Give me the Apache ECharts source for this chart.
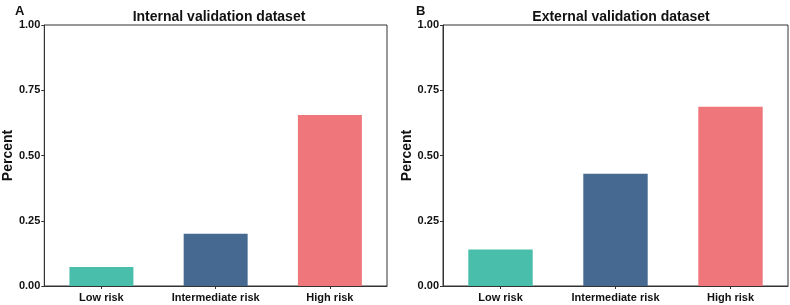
<!DOCTYPE html>
<html>
<head>
<meta charset="utf-8">
<script src="https://cdn.jsdelivr.net/npm/echarts@6/dist/echarts.min.js"></script>
<style>
    html, body { margin: 0; padding: 0; background: #fff; }
    #chart { width: 790px; height: 305px; }
</style>
</head>
<body>
<div id="chart"></div>
<script>
    // 数据
    const categories = ["Low risk", "Intermediate risk", "High risk"];
    const internalValues = [0.073, 0.2, 0.655];
    const externalValues = [0.14, 0.43, 0.687];
    const yTicks = [0, 0.25, 0.5, 0.75, 1];
    const barColors = ["#49BEAA", "#456990", "#EF767A"];

    const font = "Liberation Sans, Arial, sans-serif";
    const axisColor = "#333";

    function makeXAxis(gridIndex) {
        return {
            type: "category",
            gridIndex,
            data: categories,
            axisLine: { lineStyle: { color: axisColor, width: 1 } },
            axisTick: { show: true, alignWithLabel: true, length: 3, lineStyle: { color: axisColor } },
            axisLabel: {
                interval: 0,
                hideOverlap: false,
                color: "#111",
                fontSize: 11,
                fontWeight: "bold",
                fontFamily: font,
                margin: 6,
            },
            splitLine: { show: false },
        };
    }
    function makeYAxis(gridIndex, gap) {
        return {
            type: "value",
            gridIndex,
            min: 0,
            max: 1,
            interval: 0.25,
            name: "Percent",
            nameLocation: "middle",
            nameGap: gap,
            nameTextStyle: { color: "#111", fontSize: 14, fontWeight: "bold", fontFamily: font },
            axisLine: { show: true, lineStyle: { color: axisColor, width: 1 } },
            axisTick: { show: true, length: 3, lineStyle: { color: axisColor } },
            axisLabel: {
                color: "#111",
                fontSize: 11,
                fontWeight: "bold",
                fontFamily: font,
                margin: 4,
                formatter: (v) => (yTicks.includes(v) ? v.toFixed(2) : ""),
            },
            splitLine: { show: false },
        };
    }
    function makeSeries(idx, values) {
        return {
            type: "bar",
            xAxisIndex: idx,
            yAxisIndex: idx,
            barWidth: "56%",
            data: values.map((v, i) => ({ value: v, itemStyle: { color: barColors[i] } })),
        };
    }

    let options = {
        animation: false,
        backgroundColor: "#fff",
        title: [
            { text: "A", left: 10, top: 0, textStyle: { fontSize: 13, fontWeight: "bold", color: "#111", fontFamily: font } },
            { text: "B", left: 411, top: 0, textStyle: { fontSize: 13, fontWeight: "bold", color: "#111", fontFamily: font } },
            { text: "Internal validation dataset", left: 214, top: 5, textAlign: "center",
              textStyle: { fontSize: 14, fontWeight: "bold", color: "#111", fontFamily: font } },
            { text: "External validation dataset", left: 616, top: 5, textAlign: "center",
              textStyle: { fontSize: 14, fontWeight: "bold", color: "#111", fontFamily: font } },
        ],
        grid: [
            { left: 41, right: 403, top: 25, bottom: 19, show: true, borderColor: axisColor, borderWidth: 1, backgroundColor: "transparent" },
            { left: 443, right: 2, top: 25, bottom: 19, show: true, borderColor: axisColor, borderWidth: 1, backgroundColor: "transparent" },
        ],
        xAxis: [makeXAxis(0), makeXAxis(1)],
        yAxis: [makeYAxis(0, 26), makeYAxis(1, 28)],
        series: [makeSeries(0, internalValues), makeSeries(1, externalValues)],
    };

    const myChart = echarts.init(document.getElementById("chart"), null, { renderer: "canvas" });
    myChart.setOption(options);
</script>
</body>
</html>
